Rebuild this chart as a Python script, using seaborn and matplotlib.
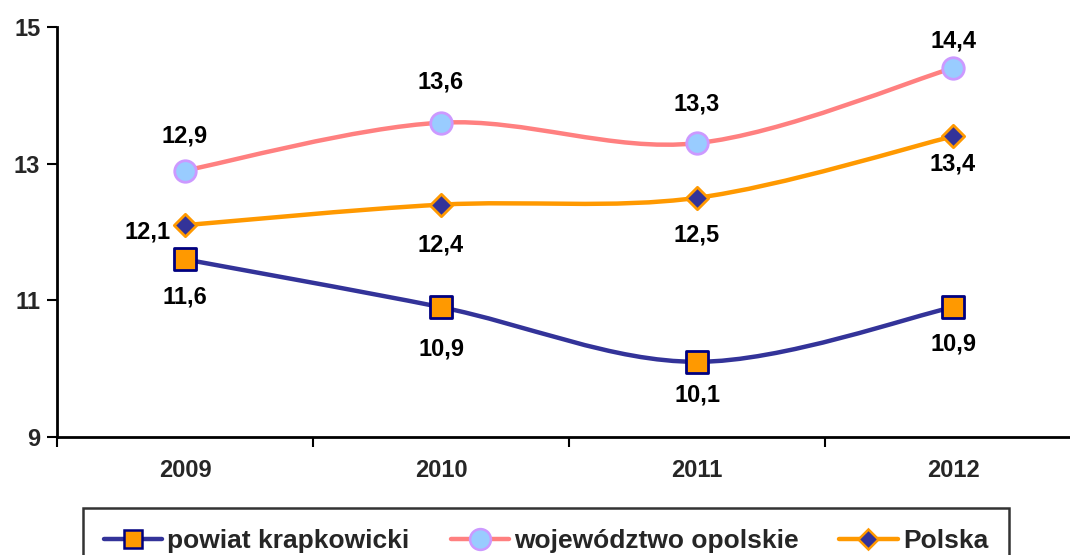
import numpy as np
import pandas as pd
import matplotlib
matplotlib.use("Agg")
import matplotlib.pyplot as plt
from matplotlib.path import Path
from matplotlib.patches import PathPatch
from matplotlib.lines import Line2D
import seaborn as sns

years = ["2009", "2010", "2011", "2012"]
powiat = [11.6, 10.9, 10.1, 10.9]
wojewodztwo = [12.9, 13.6, 13.3, 14.4]
polska = [12.1, 12.4, 12.5, 13.4]
labels_powiat = ["11,6", "10,9", "10,1", "10,9"]
labels_woj = ["12,9", "13,6", "13,3", "14,4"]
labels_pl = ["12,1", "12,4", "12,5", "13,4"]
series_names = ["powiat krapkowicki", "województwo opolskie", "Polska"]
yticks = [9, 11, 13, 15]

sns.set_theme(style="white")
plt.rcParams['font.family'] = ['Liberation Sans', 'DejaVu Sans']
plt.rcParams['font.weight'] = 'bold'

fig = plt.figure(figsize=(10.7, 5.55), dpi=100)
ax = fig.add_axes([57/1070, (555-437)/555, 1024/1070, 410/555])

x = np.arange(len(years))


def smooth_path(xs, ys):
    pts = np.column_stack([xs, ys]).astype(float)
    n = len(pts)
    verts = [pts[0]]
    codes = [Path.MOVETO]
    for i in range(n - 1):
        p0 = pts[i - 1] if i > 0 else pts[i]
        p1 = pts[i]
        p2 = pts[i + 1]
        p3 = pts[i + 2] if i + 2 < n else pts[i + 1]
        c1 = p1 + (p2 - p0) / 6.0
        c2 = p2 - (p3 - p1) / 6.0
        verts += [c1, c2, p2]
        codes += [Path.CURVE4] * 3
    return Path(verts, codes)


styles = [
    dict(vals=powiat, line="#333399", marker="s", face="#FF9900", edge="#000080", s=230, ms=13,
         labels=labels_powiat, offs=[(0, 38), (0, 42), (0, 33), (0, 37)]),
    dict(vals=wojewodztwo, line="#FF8080", marker="o", face="#99CCFF", edge="#CC99FF", s=240, ms=15,
         labels=labels_woj, offs=[(0, -35), (0, -41), (0, -39), (0, -27)]),
    dict(vals=polska, line="#FF9900", marker="D", face="#333399", edge="#FF9900", s=130, ms=10,
         labels=labels_pl, offs=[(-37, 7), (0, 40), (0, 37), (0, 28)]),
]

handles = []
for name, st in zip(series_names, styles):
    patch = PathPatch(smooth_path(x, st["vals"]), facecolor="none", edgecolor=st["line"], lw=3.2,
                      capstyle="round", joinstyle="round", zorder=2)
    ax.add_patch(patch)
    df = pd.DataFrame({"x": x, "y": st["vals"]})
    sns.scatterplot(data=df, x="x", y="y", marker=st["marker"], s=st["s"], color=st["face"],
                    edgecolor=st["edge"], linewidth=2, ax=ax, zorder=3, legend=False)
    for xi, yi, lab, off in zip(x, st["vals"], st["labels"], st["offs"]):
        ax.annotate(lab, (xi, yi), xytext=(off[0], -off[1]), textcoords="offset pixels",
                    ha="center", va="center", fontsize=17, fontweight="bold", color="black", zorder=4)
    handles.append(Line2D([], [], color=st["line"], lw=3.2, marker=st["marker"], markersize=st["ms"],
                          markerfacecolor=st["face"], markeredgecolor=st["edge"], markeredgewidth=1.8))

ax.set_xlim(-0.5, 3.5)
ax.set_ylim(9, 15)
ax.set_yticks(yticks)
ax.set_yticklabels([str(t) for t in yticks], fontsize=17, fontweight="bold")
ax.set_xticks(np.arange(-0.5, 4.0, 1.0))
ax.set_xticklabels([])
ax.set_xticks(x, minor=True)
ax.set_xticklabels(years, minor=True, fontsize=17, fontweight="bold")
ax.tick_params(axis="x", which="major", direction="out", length=7, width=1.5, color="black", bottom=True)
ax.tick_params(axis="x", which="minor", length=0, pad=16)
ax.tick_params(axis="y", direction="out", length=7, width=1.5, color="black", left=True, pad=5)
ax.set_xlabel("")
ax.set_ylabel("")
for side in ["top", "right"]:
    ax.spines[side].set_visible(False)
for side in ["left", "bottom"]:
    ax.spines[side].set_color("black")
    ax.spines[side].set_linewidth(2)
ax.grid(False)

leg = fig.legend(handles, series_names, loc="upper left", bbox_to_anchor=(83/1070, 1 - 508/555),
                 ncol=3, frameon=True, fancybox=False, edgecolor="black",
                 prop={"weight": "bold", "size": 19}, handlelength=2.2, handletextpad=0.2,
                 columnspacing=1.55, borderpad=0.8, borderaxespad=0)
leg.get_frame().set_linewidth(1.8)

fig.savefig("out.png", dpi=100)
